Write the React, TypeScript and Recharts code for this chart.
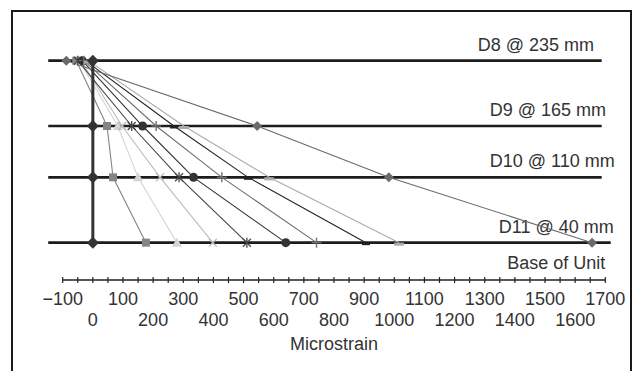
import { LineChart, Line, XAxis, YAxis, ReferenceLine } from "recharts";

// gauge depths (mm above base of unit)
const depths = [235, 165, 110, 40];
const levelNames = ["D8 @ 235 mm", "D9 @ 165 mm", "D10 @ 110 mm", "D11 @ 40 mm"];
const levelLabelShift = [124, 112, 112, 112];
const levelLineEnd = [1688, 1688, 1688, 1718];

// microstrain readings at D8, D9, D10, D11
const s1 = [0, 0, 0, 0];
const s2 = [-55, 47, 67, 176];
const s3 = [-45, 83, 150, 279];
const s4 = [-40, 97, 223, 398];
const s5 = [-50, 129, 286, 511];
const s6 = [-35, 165, 334, 640];
const s7 = [-30, 210, 428, 742];
const s8 = [-25, 269, 515, 906];
const s9 = [-15, 302, 585, 1016];
const s10 = [-88, 545, 982, 1656];

const seriesValues = [s2, s3, s4, s5, s6, s7, s8, s9, s10, s1];
const seriesKeys = ["s2", "s3", "s4", "s5", "s6", "s7", "s8", "s9", "s10", "s1"];
const seriesColors = ["#858585", "#d4d4d4", "#bdbdbd", "#454545", "#333333", "#6e6e6e", "#222222", "#aaaaaa", "#6a6a6a", "#333333"];
const seriesMarkers = ["square", "triangle", "x", "star", "circle", "plus", "dash", "longdash", "diamond", "diamond"];
const seriesWidths = [1.1, 1.1, 1.1, 1.1, 1.1, 1.1, 1.1, 1.1, 1.1, 3];
const markerSizes = [5, 5, 5, 5, 5, 5, 5, 5, 5, 6];

const xTicks = [
  -100, -50, 0, 50, 100, 150, 200, 250, 300, 350, 400, 450, 500, 550, 600, 650, 700, 750, 800,
  850, 900, 950, 1000, 1050, 1100, 1150, 1200, 1250, 1300, 1350, 1400, 1450, 1500, 1550, 1600,
  1650, 1700,
];
const upperLabels = [-100, 100, 300, 500, 700, 900, 1100, 1300, 1500, 1700];
const lowerLabels = [0, 200, 400, 600, 800, 1000, 1200, 1400, 1600];

const data = depths.map((d, i) => {
  const row: Record<string, number> = { depth: d };
  seriesKeys.forEach((k, j) => (row[k] = seriesValues[j][i]));
  return row;
});

const FONT = "'Liberation Sans', Arial, sans-serif";

function Marker({ cx, cy, shape, color, size }: any) {
  if (cx == null || cy == null) return null;
  const s = size;
  switch (shape) {
    case "diamond":
      return <polygon points={`${cx},${cy - s} ${cx + s},${cy} ${cx},${cy + s} ${cx - s},${cy}`} fill={color} />;
    case "square":
      return <rect x={cx - 4} y={cy - 4} width={8} height={8} fill={color} />;
    case "triangle":
      return <polygon points={`${cx},${cy - 5} ${cx + 5},${cy + 4} ${cx - 5},${cy + 4}`} fill={color} />;
    case "x":
      return (
        <g stroke={color} strokeWidth={1.3}>
          <line x1={cx - 4} y1={cy - 4} x2={cx + 4} y2={cy + 4} />
          <line x1={cx - 4} y1={cy + 4} x2={cx + 4} y2={cy - 4} />
        </g>
      );
    case "star":
      return (
        <g stroke={color} strokeWidth={1.3}>
          <line x1={cx - 4} y1={cy - 4} x2={cx + 4} y2={cy + 4} />
          <line x1={cx - 4} y1={cy + 4} x2={cx + 4} y2={cy - 4} />
          <line x1={cx} y1={cy - 5} x2={cx} y2={cy + 5} />
        </g>
      );
    case "circle":
      return <circle cx={cx} cy={cy} r={4.5} fill={color} />;
    case "plus":
      return (
        <g stroke={color} strokeWidth={1.4}>
          <line x1={cx - 5} y1={cy} x2={cx + 5} y2={cy} />
          <line x1={cx} y1={cy - 5} x2={cx} y2={cy + 5} />
        </g>
      );
    case "dash":
      return <rect x={cx - 4} y={cy} width={8} height={2.5} fill={color} />;
    case "longdash":
      return <rect x={cx - 5} y={cy} width={10} height={3} fill={color} />;
    default:
      return null;
  }
}

function AxisTick({ x, y, payload }: any) {
  const v = payload.value;
  const label = v < 0 ? `\u2212${Math.abs(v)}` : `${v}`;
  return (
    <g>
      <line x1={x} y1={y - 3} x2={x} y2={y + 3} stroke="#222" strokeWidth={1.2} />
      {upperLabels.includes(v) && (
        <text x={x} y={y + 25} textAnchor="middle" fontSize={18} fill="#333" fontFamily={FONT}>
          {label}
        </text>
      )}
      {lowerLabels.includes(v) && (
        <text x={x} y={y + 46} textAnchor="middle" fontSize={18} fill="#333" fontFamily={FONT}>
          {label}
        </text>
      )}
    </g>
  );
}

const levelLabel = (text: string, shift: number) => (props: any) => {
  const { viewBox } = props;
  return (
    <text
      x={viewBox.x + viewBox.width - shift}
      y={viewBox.y - 10}
      fontSize={18}
      fill="#333"
      fontFamily={FONT}
    >
      {text}
    </text>
  );
};

const baseLabel = (props: any) => {
  const { viewBox } = props;
  return (
    <text x={viewBox.x + viewBox.width} y={viewBox.y - 11} textAnchor="end" fontSize={18} fill="#333" fontFamily={FONT}>
      Base of Unit
    </text>
  );
};

export default function App() {
  return (
    <div style={{ position: "absolute", left: 0, top: 0, width: 643, height: 371, background: "#fff", overflow: "hidden" }}>
      <div
        style={{
          position: "absolute",
          left: 11,
          top: 10,
          width: 617,
          height: 400,
          border: "2px solid #1a1a1a",
        }}
      />
      <div style={{ position: "absolute", left: 0, top: 0 }}>
        <LineChart
          layout="vertical"
          width={643}
          height={371}
          data={data}
          margin={{ top: 56, right: 37.7, bottom: 0, left: 62.7 }}
        >
          <XAxis
            type="number"
            domain={[-100, 1700]}
            ticks={xTicks}
            interval={0}
            tickLine={false}
            tickSize={0}
            tickMargin={0}
            axisLine={{ stroke: "#222", strokeWidth: 1.3 }}
            tick={<AxisTick />}
            height={91}
            label={{
              value: "Microstrain",
              position: "insideBottom",
              offset: 21,
              fontSize: 18,
              fill: "#333",
              fontFamily: FONT,
            }}
          />
          <YAxis type="number" dataKey="depth" domain={[0, 240]} reversed hide />
          <ReferenceLine y={0} stroke="none" label={baseLabel} />
          {depths.map((d, i) => (
            <ReferenceLine
              key={d}
              segment={[
                { x: -148, y: d },
                { x: levelLineEnd[i], y: d },
              ]}
              ifOverflow="visible"
              stroke="#1c1c1c"
              strokeWidth={2.6}
              label={levelLabel(levelNames[i], levelLabelShift[i])}
            />
          ))}
          {seriesKeys.map((k, j) => (
            <Line
              key={k}
              dataKey={k}
              stroke={seriesColors[j]}
              strokeWidth={seriesWidths[j]}
              isAnimationActive={false}
              dot={(p: any) => (
                <Marker
                  key={`${k}-${p.index}`}
                  cx={p.cx}
                  cy={p.cy}
                  shape={seriesMarkers[j]}
                  color={seriesColors[j]}
                  size={markerSizes[j]}
                />
              )}
              activeDot={false}
            />
          ))}
        </LineChart>
      </div>
    </div>
  );
}
